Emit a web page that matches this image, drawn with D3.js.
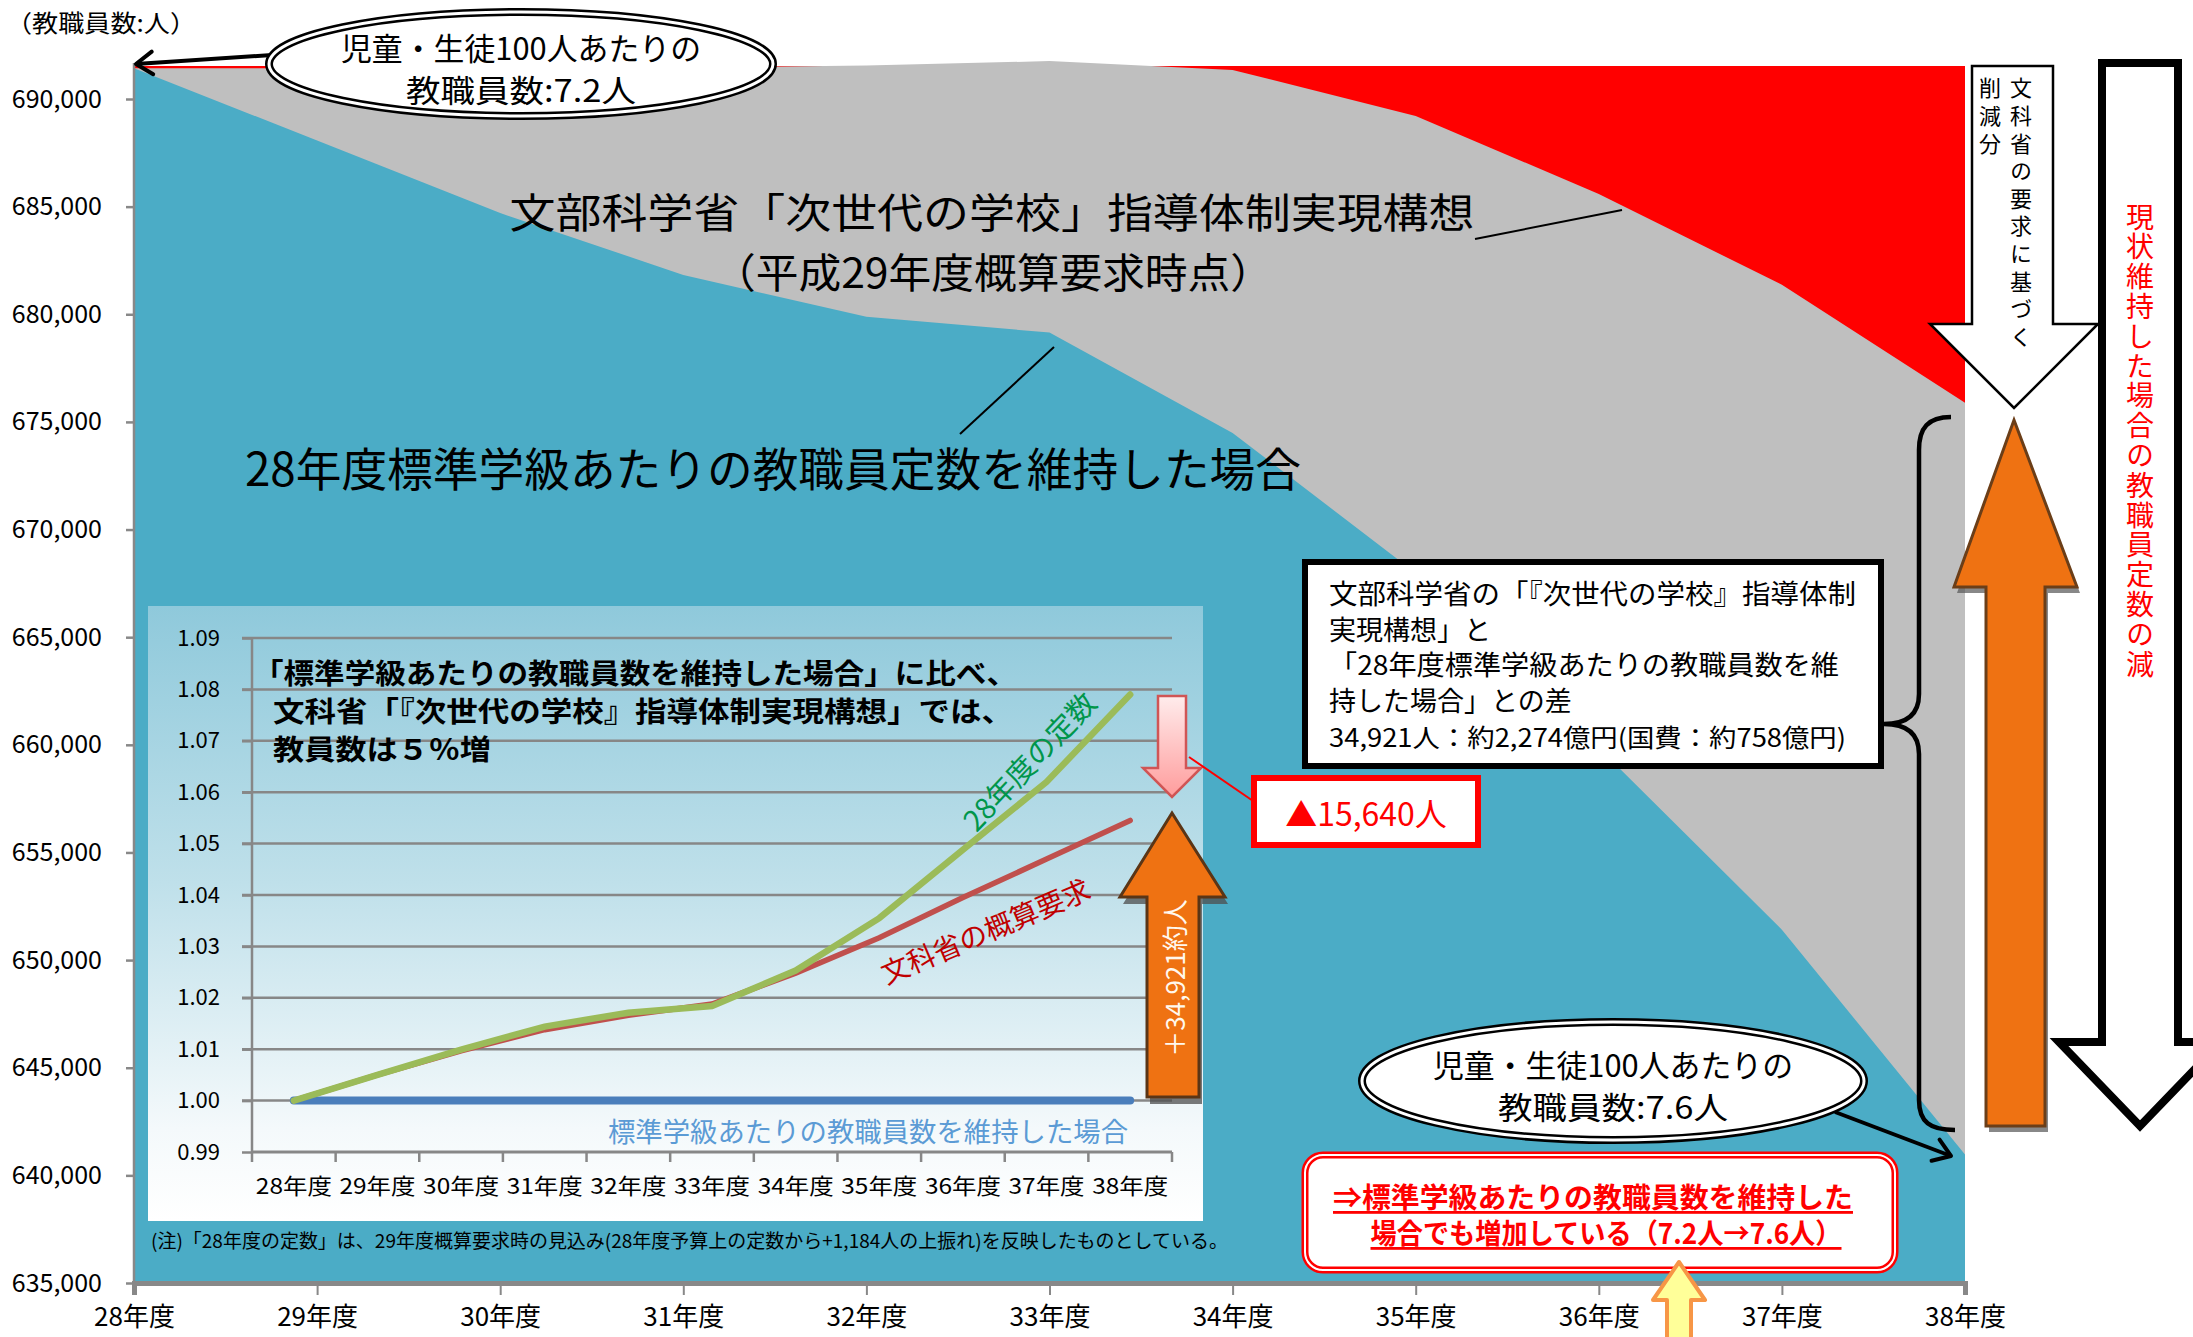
<!DOCTYPE html>
<html><head><meta charset="utf-8">
<script src="https://cdn.jsdelivr.net/npm/d3@7"></script>
<style>
body{margin:0;background:#fff;}
svg{display:block;}
text{font-family:"Noto Sans CJK JP","Noto Sans",sans-serif;}
.vert{writing-mode:vertical-rl;text-orientation:upright;}
</style></head>
<body><svg id="c" width="2193" height="1337"></svg>
<script>
// ---------------- data ----------------
const years = ["28年度","29年度","30年度","31年度","32年度","33年度","34年度","35年度","36年度","37年度","38年度"];
// main chart (教職員数:人)
const statusQuo        = [691530,691530,691530,691530,691530,691530,691530,691530,691530,691530,691530];
const nextGenPlan      = [691430,691430,691440,691450,691560,691760,691350,689210,685590,681370,675890];
const standardMaintain = [691430,688070,684700,681830,679880,679150,674490,667980,659860,651410,640970];
const mainTicks = [635000,640000,645000,650000,655000,660000,665000,670000,675000,680000,685000,690000];
// inset chart (ratio to 28年度)
const ratioMaintain = [1.000,1.000,1.000,1.000,1.000,1.000,1.000,1.000,1.000,1.000,1.000];
const ratioRequest  = [1.000,1.005,1.0097,1.0138,1.0166,1.0188,1.0248,1.0317,1.0395,1.0470,1.0545];
const ratioFixed28  = [1.000,1.005,1.0099,1.0144,1.0171,1.0184,1.0253,1.0355,1.0488,1.0620,1.0790];
const insetTicks = [0.99,1.00,1.01,1.02,1.03,1.04,1.05,1.06,1.07,1.08,1.09];
// texts
const vertRed = "現状維持した場合の教職員定数の減";
const vertCol1 = "文科省の要求に基づく";
const vertCol2 = "削減分";

const svg = d3.select("#c");
const defs = svg.append("defs");
const g1 = defs.append("linearGradient").attr("id","insetBg").attr("x1",0).attr("y1",0).attr("x2",0).attr("y2",1);
g1.append("stop").attr("offset","0%").attr("stop-color","#8FC9DB");
g1.append("stop").attr("offset","45%").attr("stop-color","#BFE0EA");
g1.append("stop").attr("offset","85%").attr("stop-color","#F4F9FB");
g1.append("stop").attr("offset","100%").attr("stop-color","#FFFFFF");
const g2 = defs.append("linearGradient").attr("id","pinkArrow").attr("x1",0).attr("y1",0).attr("x2",0).attr("y2",1);
g2.append("stop").attr("offset","0%").attr("stop-color","#FFECEC");
g2.append("stop").attr("offset","100%").attr("stop-color","#FF9C9C");

// ---------------- main chart ----------------
const x = d3.scalePoint().domain(years).range([134,1965]);
const y = d3.scaleLinear().domain([635000,690000]).range([1283,99]);
const area = vals => d3.area().x((d,i)=>x(years[i])).y0(y(635000)).y1(d=>y(d))(vals);

svg.append("path").attr("d",area(statusQuo)).attr("fill","#FF0000");
svg.append("path").attr("d",area(nextGenPlan)).attr("fill","#BFBFBF");
svg.append("path").attr("d",area(standardMaintain)).attr("fill","#4BACC6");

// y axis
const yAx = svg.append("g").attr("transform","translate(134,0)")
  .call(d3.axisLeft(y).tickValues(mainTicks).tickFormat(d3.format(",")).tickSize(8).tickPadding(24));
yAx.select(".domain").attr("d","M0,63V1283").attr("stroke","#888").attr("stroke-width",2.5);
yAx.selectAll(".tick line").attr("stroke","#888").attr("stroke-width",2.5);
yAx.selectAll("text").attr("font-size",25).attr("fill","#000").attr("font-family","'Noto Sans CJK JP'");
// x axis
const xAx = svg.append("g").attr("transform","translate(0,1283)")
  .call(d3.axisBottom(x).tickSize(12));
xAx.select(".domain").attr("stroke","#888").attr("stroke-width",5);
xAx.selectAll(".tick line").attr("stroke","#888").attr("stroke-width",2);
xAx.selectAll("text").attr("y",34).attr("dy","0.35em").attr("font-size",26).attr("fill","#000").attr("font-family","'Noto Sans CJK JP'");

svg.append("text").attr("x",6).attr("y",21).attr("dominant-baseline","central").attr("font-size",24)
  .attr("textLength",190).attr("lengthAdjust","spacingAndGlyphs").text("（教職員数:人）");

// helpers
function chevronArrow(x1,y1,x2,y2,len,width,color){
  const a = Math.atan2(y2-y1,x2-x1);
  svg.append("line").attr("x1",x1).attr("y1",y1).attr("x2",x2).attr("y2",y2).attr("stroke",color).attr("stroke-width",width);
  const p = [[x2+len*Math.cos(a+Math.PI-0.6), y2+len*Math.sin(a+Math.PI-0.6)],[x2,y2],[x2+len*Math.cos(a+Math.PI+0.6), y2+len*Math.sin(a+Math.PI+0.6)]];
  svg.append("path").attr("d",d3.line()(p)).attr("fill","none").attr("stroke",color).attr("stroke-width",width).attr("stroke-linecap","round").attr("stroke-linejoin","round");
}
function doubleEllipse(cx,cy,rx,ry){
  svg.append("ellipse").attr("cx",cx).attr("cy",cy).attr("rx",rx).attr("ry",ry).attr("fill","#fff").attr("stroke","#000").attr("stroke-width",8);
  svg.append("ellipse").attr("cx",cx).attr("cy",cy).attr("rx",rx).attr("ry",ry).attr("fill","none").attr("stroke","#fff").attr("stroke-width",3);
}
function txt(xp,yp,s,size,opts={}){
  const t = svg.append("text").attr("x",xp).attr("y",yp).attr("dominant-baseline","central")
    .attr("font-size",size).attr("fill",opts.fill||"#000").attr("text-anchor",opts.anchor||"start").text(s);
  if(opts.weight) t.attr("font-weight",opts.weight);
  if(opts.len) t.attr("textLength",opts.len).attr("lengthAdjust","spacingAndGlyphs");
  if(opts.rotate!==undefined) t.attr("transform",`rotate(${opts.rotate},${xp},${yp})`);
  if(opts.deco) t.style("text-decoration",opts.deco);
  return t;
}
function vtxt(xp,ytop,s,size,step,fill){
  return svg.append("text").attr("class","vert").attr("x",xp).attr("y",ytop)
    .attr("font-size",size).attr("fill",fill||"#000").style("letter-spacing",(step-size)+"px").text(s);
}

// top ellipse callout
chevronArrow(272,55,136,64,20,4,"#000");
doubleEllipse(521,64,252,52);
txt(521,46,"児童・生徒100人あたりの",31,{anchor:"middle",len:360});
txt(521,88,"教職員数:7.2人",31,{anchor:"middle",len:230});

// big labels
txt(992,210,"文部科学省「次世代の学校」指導体制実現構想",41,{anchor:"middle",len:965});
txt(993,270,"（平成29年度概算要求時点）",41,{anchor:"middle",len:560});
svg.append("line").attr("x1",1475).attr("y1",239).attr("x2",1622).attr("y2",210).attr("stroke","#000").attr("stroke-width",2);
txt(245,466,"28年度標準学級あたりの教職員定数を維持した場合",46,{len:1056});
svg.append("line").attr("x1",960).attr("y1",434).attr("x2",1054).attr("y2",347).attr("stroke","#000").attr("stroke-width",2);

// ---------------- inset chart ----------------
svg.append("rect").attr("x",148).attr("y",606).attr("width",1055).attr("height",615).attr("fill","url(#insetBg)");
const xi = d3.scaleBand().domain(years).range([252,1172]);
const yi = d3.scaleLinear().domain([0.99,1.09]).range([1152,638]);
const grid = svg.append("g");
grid.selectAll("line").data(insetTicks.slice(1)).join("line")
  .attr("x1",242).attr("x2",1172).attr("y1",d=>yi(d)).attr("y2",d=>yi(d)).attr("stroke","#878787").attr("stroke-width",2.5);
const yiAx = svg.append("g").attr("transform","translate(252,0)")
  .call(d3.axisLeft(yi).tickValues(insetTicks).tickFormat(d3.format(".2f")).tickSize(10).tickPadding(22));
yiAx.select(".domain").attr("d","M0,638V1152").attr("stroke","#878787").attr("stroke-width",2.5);
yiAx.selectAll(".tick line").attr("stroke","#878787").attr("stroke-width",2.5);
yiAx.selectAll("text").attr("font-size",22).attr("fill","#000").attr("font-family","'Noto Sans CJK JP'");
const xiAx = svg.append("g").attr("transform","translate(0,1152)")
  .call(d3.axisBottom(xi).tickSize(0).tickPadding(0));
xiAx.select(".domain").attr("d","M252,0H1172").attr("stroke","#878787").attr("stroke-width",3);
xiAx.selectAll(".tick text").attr("y",34).attr("dy","0.35em").attr("font-size",22).attr("fill","#000")
  .attr("textLength",76).attr("lengthAdjust","spacingAndGlyphs").attr("font-family","'Noto Sans CJK JP'");
// band-edge ticks
svg.append("g").selectAll("line").data(years).join("line")
  .attr("x1",d=>xi(d)).attr("x2",d=>xi(d)).attr("y1",1152).attr("y2",1162).attr("stroke","#878787").attr("stroke-width",2.5);
svg.append("line").attr("x1",1172).attr("x2",1172).attr("y1",1152).attr("y2",1162).attr("stroke","#878787").attr("stroke-width",2.5);

const lineI = d3.line().x((d,i)=>xi(years[i])+xi.bandwidth()/2).y(d=>yi(d));
svg.append("path").attr("d",lineI(ratioMaintain)).attr("fill","none").attr("stroke","#4A7EBB").attr("stroke-width",8).attr("stroke-linecap","round");
svg.append("path").attr("d",lineI(ratioRequest)).attr("fill","none").attr("stroke","#C0504D").attr("stroke-width",5.5).attr("stroke-linecap","round");
svg.append("path").attr("d",lineI(ratioFixed28)).attr("fill","none").attr("stroke","#9BBB59").attr("stroke-width",6.5).attr("stroke-linecap","round");

txt(253,672,"「標準学級あたりの教職員数を維持した場合」に比べ、",28,{weight:"bold",len:764});
txt(273,710,"文科省「『次世代の学校』指導体制実現構想」では、",28,{weight:"bold",len:740});
txt(273,748,"教員数は５％増",28,{weight:"bold",len:218});
txt(1028,760,"28年度の定数",29,{anchor:"middle",fill:"#00964B",rotate:-46.5});
txt(985,930,"文科省の概算要求",28,{anchor:"middle",fill:"#C00000",rotate:-23});
txt(608,1130,"標準学級あたりの教職員数を維持した場合",27,{fill:"#5B9BD5",len:520});

// pink down arrow
svg.append("polygon").attr("points","1158,696 1186,696 1186,768 1201,768 1172,797 1143,768 1158,768")
  .attr("fill","url(#pinkArrow)").attr("stroke","#D05555").attr("stroke-width",2.5);
svg.append("line").attr("x1",1189).attr("y1",757).attr("x2",1256).attr("y2",803).attr("stroke","#FF0000").attr("stroke-width",2);
// orange up arrow (inset)
const orangeInset = "1172,813 1225,897 1199,897 1199,1097 1147,1097 1147,897 1120,897";
svg.append("polygon").attr("points",orangeInset).attr("transform","translate(3,7)").attr("fill","#4D4D4D").attr("opacity",0.75);
svg.append("polygon").attr("points",orangeInset).attr("fill","#EF7212").attr("stroke","#5A3516").attr("stroke-width",3);
txt(1173,978,"＋34,921約人",26,{anchor:"middle",fill:"#FFF8EE",rotate:-90});

// note
txt(151,1239,"(注)「28年度の定数」は、29年度概算要求時の見込み(28年度予算上の定数から+1,184人の上振れ)を反映したものとしている。",19,{len:1077});

// ---------------- right side annotations ----------------
// red box 15,640
svg.append("rect").attr("x",1254).attr("y",778).attr("width",224).attr("height",67).attr("fill","#fff").attr("stroke","#FF0000").attr("stroke-width",6);
txt(1366,812,"▲15,640人",32,{anchor:"middle",fill:"#FF0000"});

// black text box
svg.append("rect").attr("x",1305).attr("y",562).attr("width",576).attr("height",204).attr("fill","#fff").attr("stroke","#000").attr("stroke-width",6);
txt(1329,592,"文部科学省の「『次世代の学校』指導体制",27,{len:527});
txt(1329,628,"実現構想」と",27);
txt(1329,663,"「28年度標準学級あたりの教職員数を維",27,{len:510});
txt(1329,699,"持した場合」との差",27);
txt(1329,736,"34,921人：約2,274億円(国費：約758億円)",25,{len:517});

// brace
svg.append("path").attr("d","M1951,417 C1928,417 1919,428 1919,450 L1919,694 C1919,716 1905,724 1884,724 C1905,724 1919,732 1919,754 L1919,1100 C1919,1122 1930,1130 1955,1130")
  .attr("fill","none").attr("stroke","#000").attr("stroke-width",4.5);

// white down arrow (文科省の要求に基づく削減分)
svg.append("polygon").attr("points","1972,66 2053,66 2053,324 2098,324 2014,408 1930,324 1972,324")
  .attr("fill","#fff").attr("stroke","#000").attr("stroke-width",2.5);
vtxt(2021,77,vertCol1,22,27.6);
vtxt(1990,77,vertCol2,22,27.6);

// big white down arrow (現状維持した場合の教職員定数の減)
svg.append("polygon").attr("points","2102,63 2178,63 2178,1042 2221,1042 2140,1126 2059,1042 2102,1042")
  .attr("fill","#fff").attr("stroke","#000").attr("stroke-width",8).attr("stroke-linejoin","miter");
vtxt(2140,203,vertRed,28,29.8,"#FF0000");

// big orange up arrow
const orangeBig = "2014,420 2077,587 2045,587 2045,1126 1986,1126 1986,587 1954,587";
svg.append("polygon").attr("points",orangeBig).attr("transform","translate(3,6)").attr("fill","#555").attr("opacity",0.7);
svg.append("polygon").attr("points",orangeBig).attr("fill","#EF7212").attr("stroke","#6B3E18").attr("stroke-width",3);

// bottom ellipse callout
chevronArrow(1835,1112,1951,1156,20,4,"#000");
doubleEllipse(1613,1081,251,59);
txt(1613,1063,"児童・生徒100人あたりの",31,{anchor:"middle",len:360});
txt(1613,1105,"教職員数:7.6人",31,{anchor:"middle",len:230});

// red rounded box
svg.append("rect").attr("x",1305).attr("y",1155).attr("width",590).attr("height",115).attr("rx",18)
  .attr("fill","#fff").attr("stroke","#FF0000").attr("stroke-width",7);
svg.append("rect").attr("x",1305).attr("y",1155).attr("width",590).attr("height",115).attr("rx",18)
  .attr("fill","none").attr("stroke","#fff").attr("stroke-width",2);
txt(1593,1196,"⇒標準学級あたりの教職員数を維持した",28,{anchor:"middle",fill:"#FF0000",weight:"bold",len:520,deco:"underline"});
txt(1606,1232,"場合でも増加している（7.2人→7.6人）",28,{anchor:"middle",fill:"#FF0000",weight:"bold",len:471,deco:"underline"});

// yellow up arrow
svg.append("polygon").attr("points","1679,1262 1705,1300 1691,1300 1691,1345 1667,1345 1667,1300 1653,1300")
  .attr("fill","#FFFF99").attr("stroke","#F79646").attr("stroke-width",4).attr("stroke-linejoin","round");
</script>
</body></html>
